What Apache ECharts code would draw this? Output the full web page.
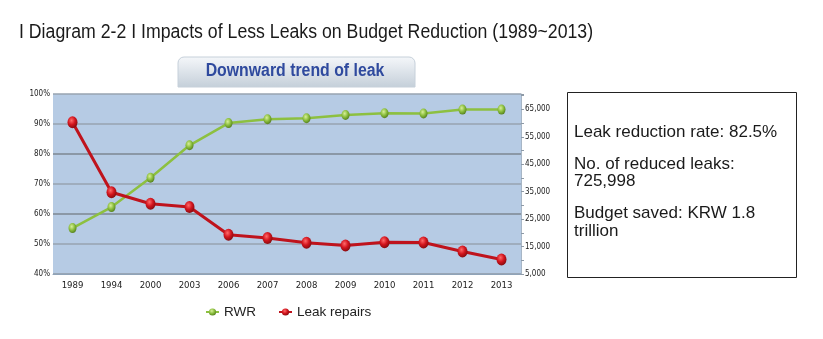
<!DOCTYPE html>
<html>
<head>
<meta charset="utf-8">
<script src="https://cdn.jsdelivr.net/npm/echarts@6/dist/echarts.min.js"></script>
<style>
html,body{margin:0;padding:0;background:#fff;}
#c{width:823px;height:339px;}
</style>
</head>
<body>
<div id="c"></div>
<script>
var years = ['1989','1994','2000','2003','2006','2007','2008','2009','2010','2011','2012','2013'];
var rwr = [55.3, 62.3, 72.1, 82.9, 90.3, 91.6, 91.9, 93.0, 93.6, 93.5, 94.8, 94.8];
var leakRepairs = [60300, 34800, 30600, 29400, 19300, 18100, 16400, 15400, 16600, 16500, 13200, 10300];
var leftTicks = [40, 100, 10];
var rightTicks = [5000, 70600, 5000];
var infoLines = ['Leak reduction rate: 82.5%', 'No. of reduced leaks:', '725,998', 'Budget saved: KRW 1.8', 'trillion'];

var NARROW = '"DejaVu Sans Condensed", "Liberation Sans", sans-serif';
var chart = echarts.init(document.getElementById('c'), null, {renderer:'canvas'});

function sphere(light, mid, dark){
  return {type:'radial', x:0.4, y:0.35, r:0.7, colorStops:[
    {offset:0, color:light},{offset:0.5, color:mid},{offset:1, color:dark}]};
}

var option = {
  animation:false,
  backgroundColor:'#ffffff',
  grid:{left:53, top:94, width:468, height:180, show:true, backgroundColor:'#b6cbe4', borderWidth:0},
  legend:{
    left:200, top:300, itemGap:22, itemWidth:13, itemHeight:9,
    textStyle:{fontFamily:'Liberation Sans', fontSize:13.5, color:'#222'},
    data:['RWR','Leak repairs']
  },
  xAxis:{
    type:'category', data:years, boundaryGap:true,
    axisLine:{show:true, lineStyle:{color:'#8fa3b8', width:1}},
    axisTick:{show:false},
    axisLabel:{fontFamily:NARROW, fontSize:9.5, color:'#222', margin:7}
  },
  yAxis:[{
    type:'value', min:leftTicks[0], max:leftTicks[1], interval:leftTicks[2],
    axisLine:{show:false}, axisTick:{show:false},
    axisLabel:{fontFamily:NARROW, fontSize:8, color:'#222', margin:3,
      formatter:function(v){return v+'%';}},
    splitLine:{show:true, lineStyle:{width:1.5, color:['#8e9aa7','#97a3b0','#7d8792','#97a3b0','#7d8792','#97a3b0','#97a3b0']}}
  },{
    type:'value', min:rightTicks[0], max:rightTicks[1], interval:rightTicks[2],
    position:'right',
    axisLine:{show:true, lineStyle:{color:'#a7b6c6', width:1}},
    axisTick:{show:true, length:3, lineStyle:{color:'#8e9aa7'}},
    splitLine:{show:false},
    axisLabel:{fontFamily:NARROW, fontSize:8, color:'#222', margin:4,
      formatter:function(v){ return (v % 10000 === 5000) ? v.toLocaleString('en-US') : ''; }}
  }],
  series:[{
    name:'RWR', type:'line', yAxisIndex:0, data:rwr,
    symbol:'circle', symbolSize:[8,10],
    lineStyle:{color:'#8dc040', width:2.5},
    itemStyle:{color:sphere('#d8ef9a','#8dc040','#4f7a1a'), borderWidth:0},
    z:3
  },{
    name:'Leak repairs', type:'line', yAxisIndex:1, data:leakRepairs,
    symbol:'circle', symbolSize:[10,12],
    lineStyle:{color:'#bf131c', width:3},
    itemStyle:{color:sphere('#ff6a6a','#d3151e','#7e0a0e'), borderWidth:0},
    z:4
  }],
  graphic:[
    {type:'text', x:19, y:32, scaleX:0.885, style:{text:'I Diagram 2-2 I Impacts of Less Leaks on Budget Reduction (1989~2013)',
      font:'20px "Liberation Sans"', fill:'#1a1a1a', verticalAlign:'middle'}},
    {type:'rect', shape:{x:178, y:57, width:237, height:30, r:[6,6,0,0]},
      style:{fill:{type:'linear',x:0,y:0,x2:0,y2:1,colorStops:[{offset:0,color:'#f5f7fa'},{offset:1,color:'#c4cfd9'}]},
        stroke:'#c6d0da', lineWidth:1}},
    {type:'text', x:295, y:71, scaleX:0.88, style:{text:'Downward trend of leak', font:'bold 18px "Liberation Sans"',
      fill:'#2f4a9e', align:'center', verticalAlign:'middle'}},
    {type:'rect', shape:{x:567.5, y:92.5, width:229, height:185}, style:{fill:'#fff', stroke:'#222', lineWidth:1}},
    {type:'text', x:574, y:132, style:{text:infoLines[0], font:'17px "Liberation Sans"', fill:'#1a1a1a', verticalAlign:'middle'}},
    {type:'text', x:574, y:164, style:{text:infoLines[1], font:'17px "Liberation Sans"', fill:'#1a1a1a', verticalAlign:'middle'}},
    {type:'text', x:574, y:181, style:{text:infoLines[2], font:'17px "Liberation Sans"', fill:'#1a1a1a', verticalAlign:'middle'}},
    {type:'text', x:574, y:213, style:{text:infoLines[3], font:'17px "Liberation Sans"', fill:'#1a1a1a', verticalAlign:'middle'}},
    {type:'text', x:574, y:231, style:{text:infoLines[4], font:'17px "Liberation Sans"', fill:'#1a1a1a', verticalAlign:'middle'}}
  ]
};
chart.setOption(option);
</script>
</body>
</html>
